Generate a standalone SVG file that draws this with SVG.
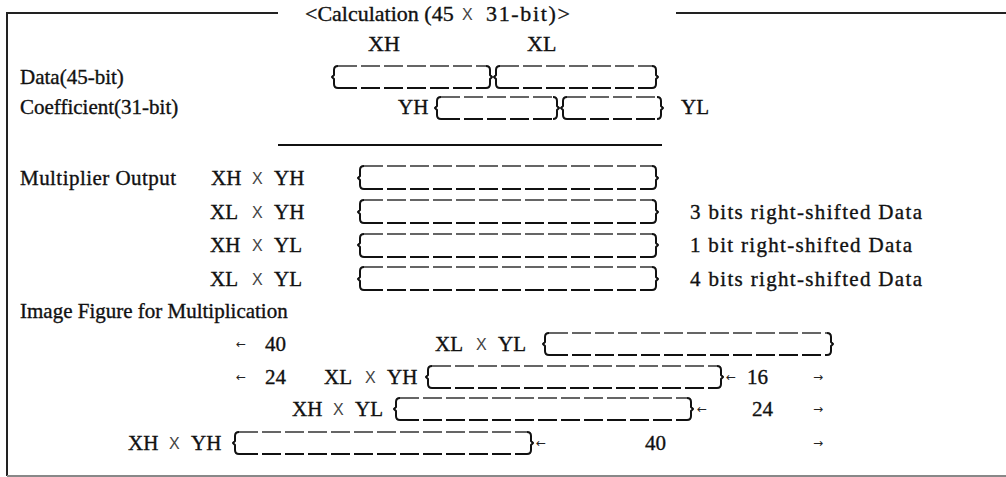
<svg xmlns="http://www.w3.org/2000/svg" width="1006" height="477" viewBox="0 0 1006 477">
<style>
text{font-family:"Liberation Serif","Times New Roman",serif;font-size:21px;fill:#111;stroke:#111;stroke-width:0.35}
.x{font-family:"Liberation Sans",Arial,sans-serif;font-size:16px;fill:#444;stroke:none}
.ar{font-family:"DejaVu Sans",sans-serif;font-size:12px;fill:#222;stroke:none}
.frame{stroke:#222;stroke-width:2;fill:none}
.bottom{stroke:#888;stroke-width:2;fill:none}
.brace{stroke:#111;stroke-width:2;fill:none;stroke-linejoin:round}
.dt{stroke:#333;stroke-width:1.5;fill:none;stroke-dasharray:19 4}
.db{stroke:#111;stroke-width:2;fill:none;stroke-dasharray:19 4}
.rule{stroke:#111;stroke-width:2}
</style>
<rect width="1006" height="477" fill="#fff"/>
<g id="frame">
<path class="frame" d="M7,476 V13 H278 M676,13 H1006"/>
<path class="bottom" d="M7,476 H1006"/>
<text x="305" y="21" style="font-size:22px">&lt;Calculation (45</text>
<text class="x" x="462" y="20">X</text>
<text x="486" y="21" style="font-size:22px" textLength="84" lengthAdjust="spacing">31-bit)&gt;</text>
</g>
<g id="header">
<text x="368" y="51" style="font-size:22px">XH</text>
<text x="527" y="51" style="font-size:22px">XL</text>
</g>
<g id="data">
<text x="20" y="84">Data(45-bit)</text>
<path class="brace" d="M338,66 Q334,66 334,70 V75 L332,77 L334,79 V84 Q334,88 338,88 M486,66 Q490,66 490,70 V75 L492,77 L490,79 V84 Q490,88 486,88"/>
<path class="dt" d="M338,66 H486"/><path class="db" d="M338,88 H486"/>
<path class="brace" d="M500,66 Q496,66 496,70 V75 L494,77 L496,79 V84 Q496,88 500,88 M652,66 Q656,66 656,70 V75 L658,77 L656,79 V84 Q656,88 652,88"/>
<path class="dt" d="M500,66 H652"/><path class="db" d="M500,88 H652"/>
</g>
<g id="coefficient">
<text x="20" y="114">Coefficient(31-bit)</text>
<text x="398" y="114">YH</text>
<path class="brace" d="M441,97 Q437,97 437,101 V106 L435,108 L437,110 V115 Q437,119 441,119 M553,97 Q557,97 557,101 V106 L559,108 L557,110 V115 Q557,119 553,119"/>
<path class="dt" d="M441,97 H553"/><path class="db" d="M441,119 H553"/>
<path class="brace" d="M567,97 Q563,97 563,101 V106 L561,108 L563,110 V115 Q563,119 567,119 M657,97 Q661,97 661,101 V106 L663,108 L661,110 V115 Q661,119 657,119"/>
<path class="dt" d="M567,97 H657"/><path class="db" d="M567,119 H657"/>
<text x="681" y="114">YL</text>
</g>
<g id="connectors">
<line class="rule" x1="278" y1="145" x2="662" y2="145"/>
</g>
<g id="mult-xhyh">
<text x="20" y="185" textLength="156" lengthAdjust="spacing">Multiplier Output</text>
<text x="211" y="185">XH</text><text class="x" x="252" y="184">X</text><text x="274" y="185">YH</text>
<path class="brace" d="M364,166 Q360,166 360,170 V176 L358,178 L360,180 V185 Q360,189 364,189 M652,166 Q656,166 656,170 V176 L658,178 L656,180 V185 Q656,189 652,189"/>
<path class="dt" d="M364,166 H652"/><path class="db" d="M364,189 H652"/>
</g>
<g id="mult-xlyh">
<text x="210" y="219">XL</text><text class="x" x="252" y="218">X</text><text x="274" y="219">YH</text>
<path class="brace" d="M364,200 Q360,200 360,204 V210 L358,212 L360,214 V219 Q360,223 364,223 M652,200 Q656,200 656,204 V210 L658,212 L656,214 V219 Q656,223 652,223"/>
<path class="dt" d="M364,200 H652"/><path class="db" d="M364,223 H652"/>
<text x="690" y="219" textLength="232" lengthAdjust="spacing">3 bits right-shifted Data</text>
</g>
<g id="mult-xhyl">
<text x="210" y="252">XH</text><text class="x" x="252" y="251">X</text><text x="274" y="252">YL</text>
<path class="brace" d="M364,234 Q360,234 360,238 V243 L358,245 L360,247 V253 Q360,257 364,257 M652,234 Q656,234 656,238 V243 L658,245 L656,247 V253 Q656,257 652,257"/>
<path class="dt" d="M364,234 H652"/><path class="db" d="M364,257 H652"/>
<text x="690" y="252" textLength="222" lengthAdjust="spacing">1 bit right-shifted Data</text>
</g>
<g id="mult-xlyl">
<text x="210" y="286">XL</text><text class="x" x="252" y="285">X</text><text x="274" y="286">YL</text>
<path class="brace" d="M364,267 Q360,267 360,271 V277 L358,279 L360,281 V286 Q360,290 364,290 M652,267 Q656,267 656,271 V277 L658,279 L656,281 V286 Q656,290 652,290"/>
<path class="dt" d="M364,267 H652"/><path class="db" d="M364,290 H652"/>
<text x="690" y="286" textLength="232" lengthAdjust="spacing">4 bits right-shifted Data</text>
</g>
<g id="image-title">
<text x="20" y="318">Image Figure for Multiplication</text>
</g>
<g id="img-xlyl">
<text class="ar" x="236" y="348">←</text>
<text x="265" y="351">40</text>
<text x="435" y="351">XL</text><text class="x" x="476" y="350">X</text><text x="498" y="351">YL</text>
<path class="brace" d="M549,333 Q545,333 545,337 V342 L543,344 L545,346 V351 Q545,355 549,355 M827,333 Q831,333 831,337 V342 L833,344 L831,346 V351 Q831,355 827,355"/>
<path class="dt" d="M549,333 H827"/><path class="db" d="M549,355 H827"/>
</g>
<g id="img-xlyh">
<text class="ar" x="236" y="381">←</text>
<text x="265" y="384">24</text>
<text x="324" y="384">XL</text><text class="x" x="365" y="383">X</text><text x="387" y="384">YH</text>
<path class="brace" d="M432,366 Q428,366 428,370 V375 L426,377 L428,379 V384 Q428,388 432,388 M717,366 Q721,366 721,370 V375 L723,377 L721,379 V384 Q721,388 717,388"/>
<path class="dt" d="M432,366 H717"/><path class="db" d="M432,388 H717"/>
<text class="ar" x="726" y="381">←</text>
<text x="747" y="384">16</text>
<text class="ar" x="813" y="381">→</text>
</g>
<g id="img-xhyl">
<text x="292" y="416">XH</text><text class="x" x="333" y="415">X</text><text x="355" y="416">YL</text>
<path class="brace" d="M400,398 Q396,398 396,402 V407 L394,409 L396,411 V416 Q396,420 400,420 M687,398 Q691,398 691,402 V407 L693,409 L691,411 V416 Q691,420 687,420"/>
<path class="dt" d="M400,398 H687"/><path class="db" d="M400,420 H687"/>
<text class="ar" x="697" y="413">←</text>
<text x="752" y="416">24</text>
<text class="ar" x="813" y="413">→</text>
</g>
<g id="img-xhyh">
<text x="128" y="450">XH</text><text class="x" x="169" y="449">X</text><text x="191" y="450">YH</text>
<path class="brace" d="M239,432 Q235,432 235,436 V441 L233,443 L235,445 V450 Q235,454 239,454 M527,432 Q531,432 531,436 V441 L533,443 L531,445 V450 Q531,454 527,454"/>
<path class="dt" d="M239,432 H527"/><path class="db" d="M239,454 H527"/>
<text class="ar" x="536" y="447">←</text>
<text x="645" y="450">40</text>
<text class="ar" x="813" y="447">→</text>
</g>
</svg>
